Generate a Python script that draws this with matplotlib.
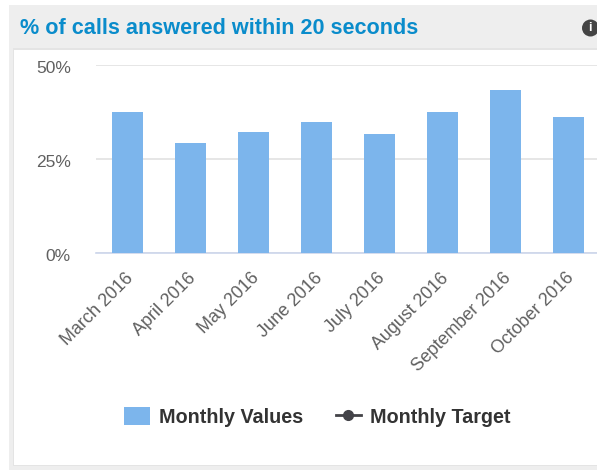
#!/usr/bin/env python3
# Monthly call answer rate panel
import matplotlib
matplotlib.use('Agg')
import matplotlib.pyplot as plt
from matplotlib.lines import Line2D
from matplotlib.patches import Ellipse, Rectangle
from matplotlib.transforms import ScaledTranslation

plt.rcParams['font.family'] = ['Liberation Sans', 'DejaVu Sans']

W, H = 597, 470

months = ['March 2016', 'April 2016', 'May 2016', 'June 2016',
          'July 2016', 'August 2016', 'September 2016', 'October 2016']
values = [37.5, 29.2, 32.3, 34.8, 31.6, 37.5, 43.4, 36.3]
y_ticks = [0, 25, 50]
y_labels = ['0%', '25%', '50%']

fig = plt.figure(figsize=(W / 100, H / 100), dpi=100, facecolor='white')

# Convert picture pixels (origin top left) to figure fractions
def fx(x):
    return x / W

def fy(y):
    return 1 - y / H

def add_box(x0, y0, x1, y1, color):
    fig.add_artist(Rectangle((fx(x0), fy(y1)), (x1 - x0) / W, (y1 - y0) / H,
                             transform=fig.transFigure, facecolor=color,
                             edgecolor='none', zorder=-1))

# Panel background
add_box(9, 5, W, 470, '#eeeeee')
add_box(13, 48, W, 466, '#e4e4e4')
add_box(14, 50, W, 465, 'white')

fig.text(fx(20), fy(28), '% of calls answered within 20 seconds', color='#0a8ccb',
         fontsize=15.6, fontweight='bold', va='center', ha='left')

# Info icon, cut off by the right edge
fig.add_artist(Ellipse((fx(590.5), fy(28)), 17 / W, 17 / H, transform=fig.transFigure,
                       facecolor='#444444', edgecolor='none'))
fig.text(fx(590), fy(28), 'i', color='white', fontsize=9, fontweight='bold',
         va='center', ha='center')

# Plot area
ax = fig.add_axes([fx(96), fy(253), (W - 96) / W, 188 / H])
ax.patch.set_alpha(0)
ax.bar(range(len(months)), values, width=0.5, color='#7cb5ec', zorder=3,
       label='Monthly Values')
ax.set_xlim(-0.5, (W - 96) / 63 - 0.5)
ax.set_ylim(0, 50)

ax.set_yticks(y_ticks)
ax.set_yticklabels(y_labels, fontsize=12.5, color='#606060')
ax.tick_params(axis='y', length=0, pad=18)
# y labels sit a little under their gridlines
shift = ScaledTranslation(0, -2 / 100, fig.dpi_scale_trans)
for label in ax.get_yticklabels():
    label.set_transform(label.get_transform() + shift)
ax.set_xticks(range(len(months)))
ax.set_xticklabels(months, rotation=45, ha='right', rotation_mode='anchor',
                   fontsize=12.9, color='#606060')
ax.tick_params(axis='x', length=0, pad=12)
# x labels end a little left of the bar centres
shift_x = ScaledTranslation(-3 / 100, 0, fig.dpi_scale_trans)
for label in ax.get_xticklabels():
    label.set_transform(label.get_transform() + shift_x)
ax.grid(axis='y', color='#e6e6e6', linewidth=1.4, zorder=0)
ax.set_axisbelow(True)
for name in ['top', 'right', 'left']:
    ax.spines[name].set_visible(False)
ax.spines['bottom'].set_color('#ccd6eb')
ax.spines['bottom'].set_linewidth(1.2)

# Legend
handles = [Rectangle((0, 0), 1, 1, facecolor='#7cb5ec', edgecolor='none'),
           Line2D([], [], color='#434348', marker='o', markersize=7, linewidth=2)]
fig.legend(handles, ['Monthly Values', 'Monthly Target'],
           loc='center', bbox_to_anchor=(fx(317.5), fy(417)), ncol=2, frameon=False,
           prop={'size': 14.2, 'weight': 'bold'}, labelcolor='#333333',
           handlelength=1.3, handleheight=1.0, handletextpad=0.45, columnspacing=1.65)

fig.savefig('out.png', dpi=100)
